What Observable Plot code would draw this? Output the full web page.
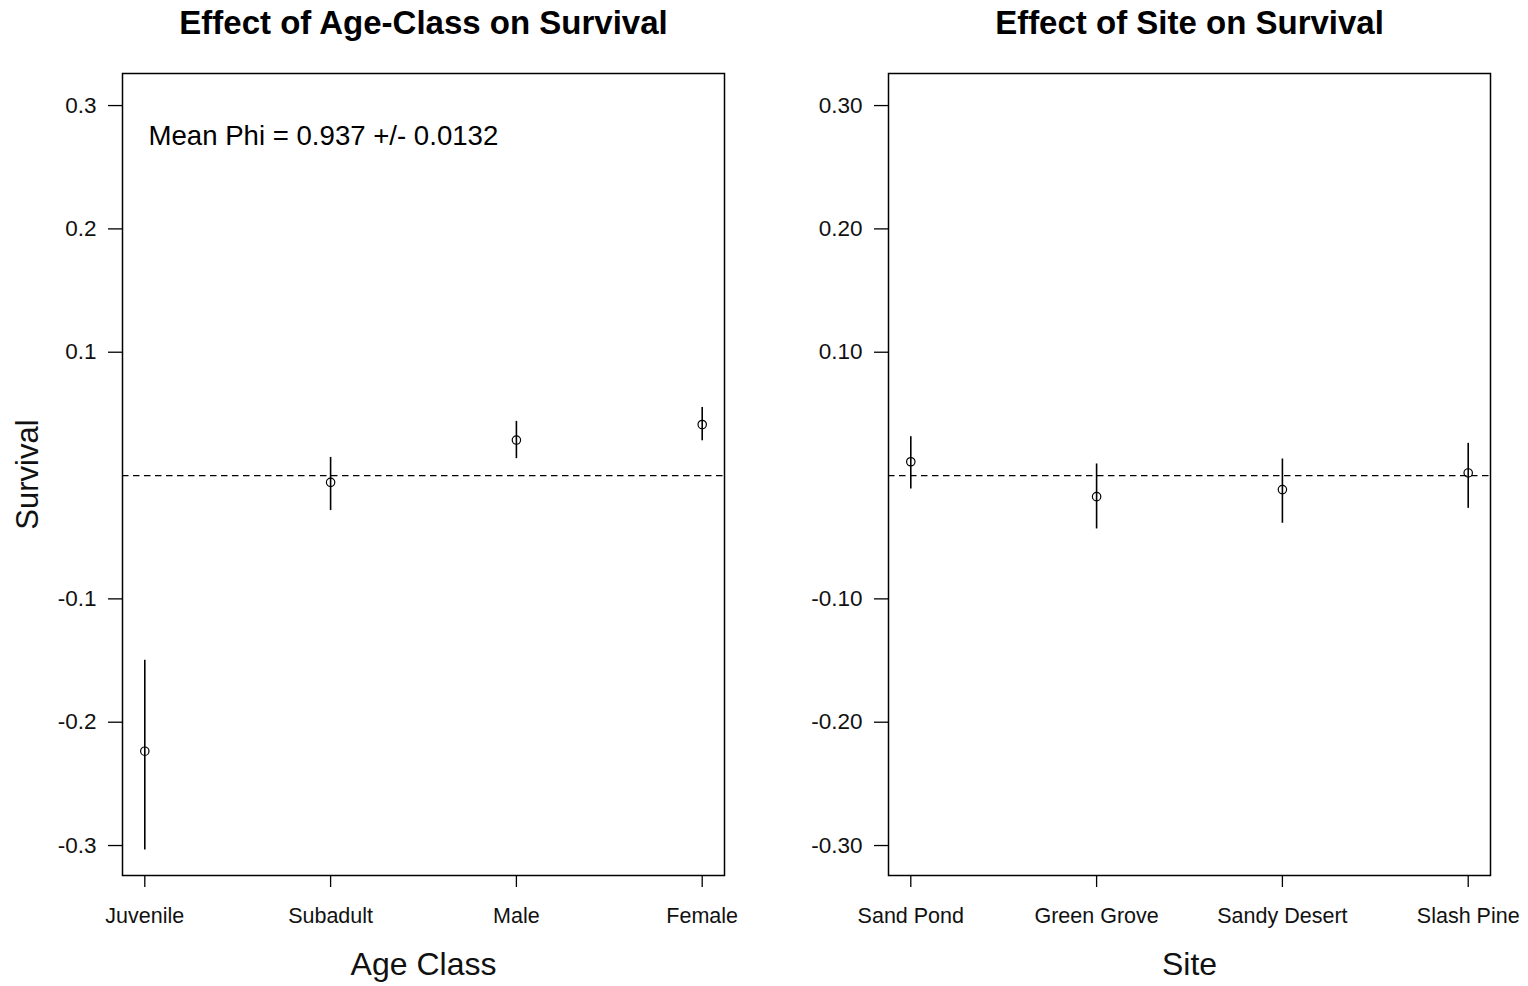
<!DOCTYPE html>
<html>
<head>
<meta charset="utf-8">
<script src="https://cdn.jsdelivr.net/npm/d3@7"></script>
<script src="https://cdn.jsdelivr.net/npm/@observablehq/plot@0.6"></script>
<style>
  html, body { margin: 0; padding: 0; background: #fff; }
  #wrap { display: flex; width: 1528px; height: 986px; }
  svg { font-family: "Liberation Sans", Arial, sans-serif; }
</style>
</head>
<body>
<div id="wrap"></div>
<script>
// Panel 1: age class effects
const ageClasses = ["Juvenile", "Subadult", "Male", "Female"];
const ageEst   = [-0.2235, -0.0055, 0.0288, 0.0414];
const ageLower = [-0.3036, -0.0284, 0.0137, 0.0282];
const ageUpper = [-0.1498,  0.0147, 0.0439, 0.0552];

// Panel 2: site effects
const sites     = ["Sand Pond", "Green Grove", "Sandy Desert", "Slash Pine"];
const siteEst   = [ 0.0112, -0.0171, -0.0114, 0.0021];
const siteLower = [-0.0109, -0.0433, -0.0387, -0.0266];
const siteUpper = [ 0.0315,  0.0094,  0.0134, 0.0261];

const yTicks = [-0.3, -0.2, -0.1, 0.1, 0.2, 0.3];
const meanText = "Mean Phi = 0.937 +/- 0.0132";

function panel({names, est, lower, upper, title, xlabel, ylabel, note, digits, marginLeft, marginRight}) {
  const data = names.map((n, i) => ({i: i + 1, name: n, est: est[i], lo: lower[i], hi: upper[i]}));
  const marks = [
    Plot.ruleY([0], {strokeDasharray: "6.5,4.5", strokeWidth: 1.3, stroke: "#000"}),
    Plot.ruleX(data, {x: "i", y1: "lo", y2: "hi", strokeWidth: 1.6, stroke: "#000"}),
    Plot.dot(data, {x: "i", y: "est", r: 4.2, stroke: "#000", strokeWidth: 1.2, fill: "none"}),
    Plot.frame({stroke: "#000", strokeWidth: 1.5}),
    Plot.axisY({ticks: yTicks, tickFormat: d => d.toFixed(digits), tickSize: 14, tickPadding: 12,
      fontSize: 22.5, label: null, stroke: "#000", strokeWidth: 1.3, fill: "#111"}),
    Plot.axisX({ticks: [1, 2, 3, 4], tickFormat: d => names[d - 1], tickSize: 12, tickPadding: 20,
      fontSize: 21.5, label: null, stroke: "#000", strokeWidth: 1.3, fill: "#111"}),
    Plot.text([title], {text: d => d, frameAnchor: "top", dy: -63, fontSize: 33, fontWeight: "bold", fill: "#000"}),
    Plot.text([xlabel], {text: d => d, frameAnchor: "bottom", dy: 99, fontSize: 32, fill: "#111"})
  ];
  if (ylabel) marks.push(Plot.text([ylabel], {text: d => d, frameAnchor: "left", dx: -94, rotate: -90,
    textAnchor: "middle", lineAnchor: "middle", fontSize: 31, fill: "#111"}));
  if (note) marks.push(Plot.text([note], {text: d => d, frameAnchor: "top-left", dx: 26, dy: 63,
    textAnchor: "start", lineAnchor: "middle", fontSize: 27.6, fill: "#000"}));
  return Plot.plot({
    width: 764,
    height: 986,
    marginLeft, marginRight,
    marginTop: 73,
    marginBottom: 111,
    x: {type: "linear", domain: [0.88, 4.12]},
    y: {type: "linear", domain: [-0.3243, 0.326]},
    style: {fontFamily: "'Liberation Sans', Arial, sans-serif", background: "#fff", color: "#000"},
    marks
  });
}

const wrap = document.getElementById("wrap");
wrap.appendChild(panel({names: ageClasses, est: ageEst, lower: ageLower, upper: ageUpper,
  title: "Effect of Age-Class on Survival", xlabel: "Age Class", ylabel: "Survival", note: meanText,
  digits: 1, marginLeft: 122, marginRight: 40}));
wrap.appendChild(panel({names: sites, est: siteEst, lower: siteLower, upper: siteUpper,
  title: "Effect of Site on Survival", xlabel: "Site", ylabel: null, note: null,
  digits: 2, marginLeft: 124, marginRight: 38}));
</script>
</body>
</html>
